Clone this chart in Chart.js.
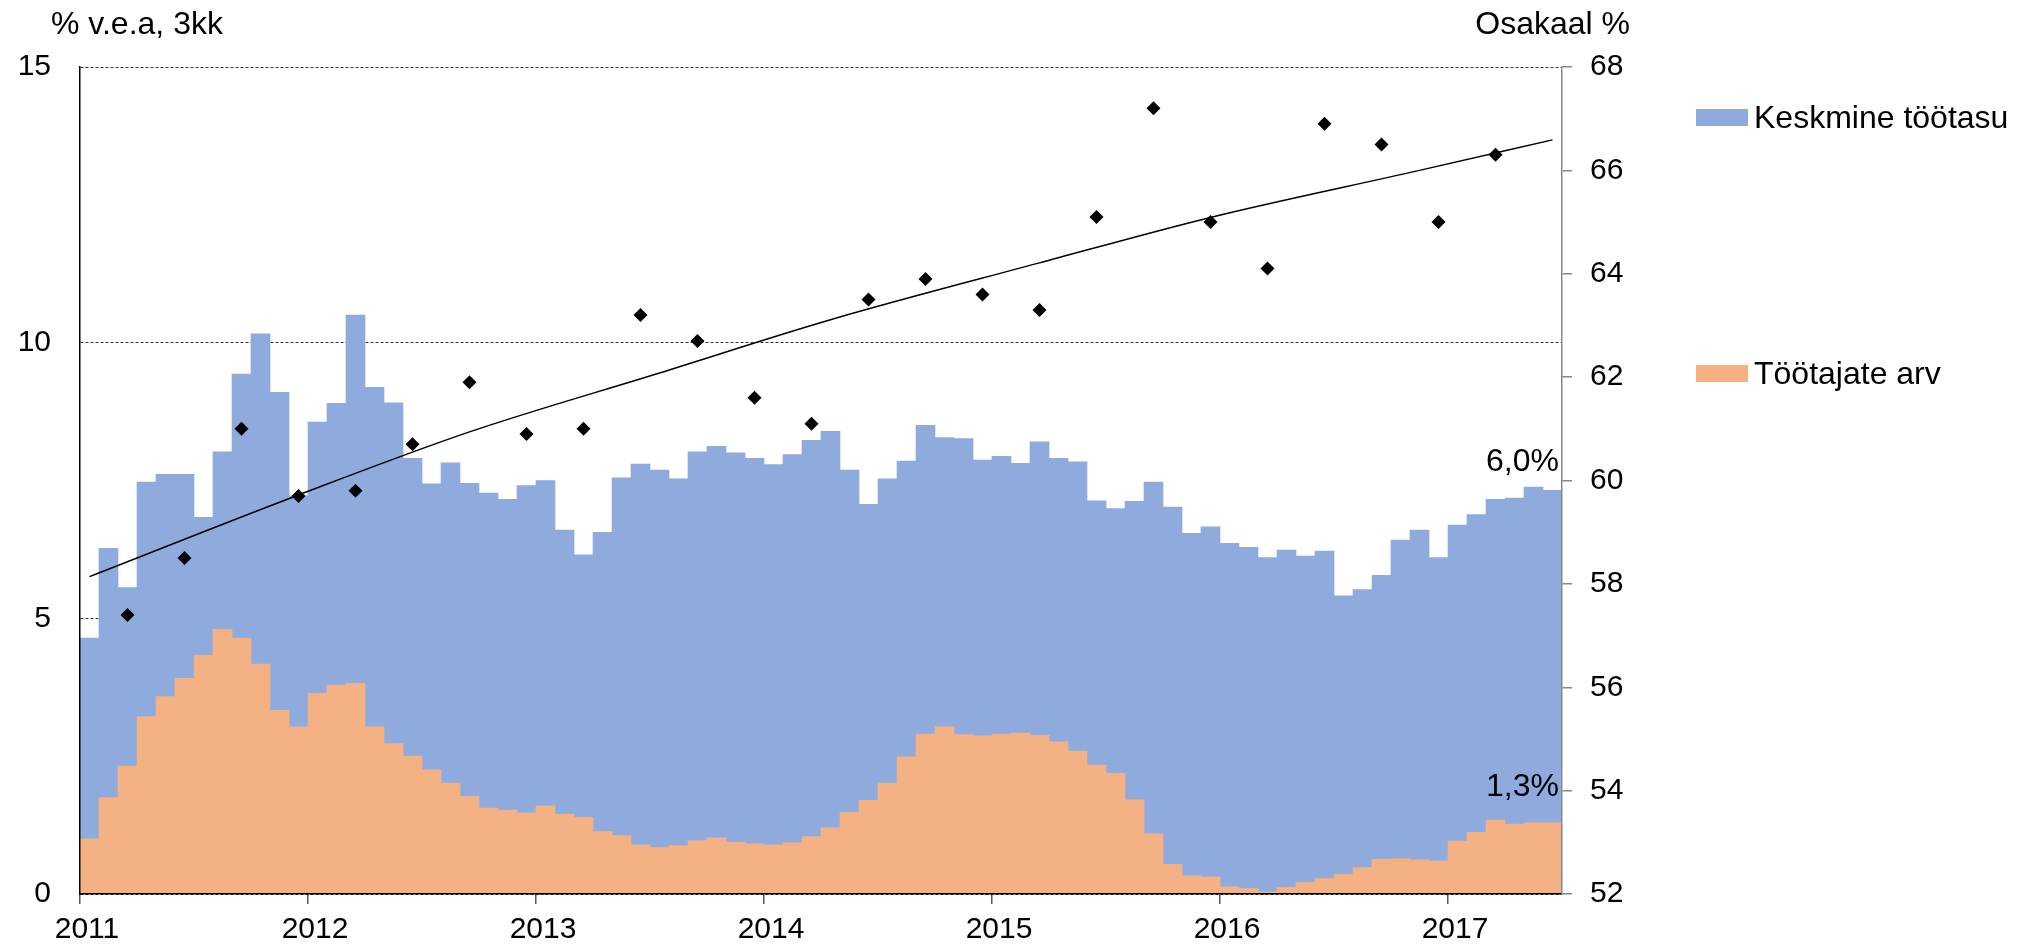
<!DOCTYPE html>
<html>
<head>
<meta charset="utf-8">
<script src="https://cdn.jsdelivr.net/npm/chart.js@4/dist/chart.umd.min.js"></script>
<style>
  html, body { margin: 0; padding: 0; background: #fff; }
  #wrap { position: relative; width: 2031px; height: 948px; font-family: 'Liberation Sans', Arial, sans-serif; color: #000; }
  #wrap canvas { position: absolute; left: 0; top: 0; }
  .txt { position: absolute; font-size: 32px; line-height: 32px; white-space: nowrap; }
  .box { position: absolute; width: 52px; height: 17px; }
</style>
</head>
<body>
<div id="wrap">
  <canvas id="chart" width="2031" height="948"></canvas>
  <div class="txt" style="left:51px; top:7px;">% v.e.a, 3kk</div>
  <div class="txt" style="right:401px; top:7px;">Osakaal %</div>
  <div class="box" style="left:1696px; top:109px; background:#8FAADC;"></div>
  <div class="txt" style="left:1754px; top:101px;">Keskmine töötasu</div>
  <div class="box" style="left:1696px; top:365px; background:#F4B183;"></div>
  <div class="txt" style="left:1754px; top:357px;">Töötajate arv</div>
  <div class="txt" style="right:472px; top:444px;">6,0%</div>
  <div class="txt" style="right:472px; top:769px;">1,3%</div>
</div>
<script>
// months (one bar each)
const months = [
  '2011-01','2011-02','2011-03','2011-04','2011-05','2011-06','2011-07','2011-08','2011-09','2011-10','2011-11','2011-12',
  '2012-01','2012-02','2012-03','2012-04','2012-05','2012-06','2012-07','2012-08','2012-09','2012-10','2012-11','2012-12',
  '2013-01','2013-02','2013-03','2013-04','2013-05','2013-06','2013-07','2013-08','2013-09','2013-10','2013-11','2013-12',
  '2014-01','2014-02','2014-03','2014-04','2014-05','2014-06','2014-07','2014-08','2014-09','2014-10','2014-11','2014-12',
  '2015-01','2015-02','2015-03','2015-04','2015-05','2015-06','2015-07','2015-08','2015-09','2015-10','2015-11','2015-12',
  '2016-01','2016-02','2016-03','2016-04','2016-05','2016-06','2016-07','2016-08','2016-09','2016-10','2016-11','2016-12',
  '2017-01','2017-02','2017-03','2017-04','2017-05','2017-06'
];

// Keskmine töötasu, % v.e.a
const keskmineTootasu = [
  4.64, 6.27, 5.56, 7.47, 7.61, 7.61, 6.83, 8.02, 9.43, 10.16, 9.10, 7.22,
  8.56, 8.90, 10.50, 9.19, 8.91, 7.90, 7.44, 7.82, 7.45, 7.27, 7.16, 7.41,
  7.50, 6.60, 6.15, 6.56, 7.55, 7.80, 7.69, 7.53, 8.02, 8.12, 8.00, 7.90,
  7.79, 7.97, 8.23, 8.39, 7.69, 7.07, 7.53, 7.85, 8.50, 8.28, 8.26, 7.87,
  7.94, 7.81, 8.20, 7.90, 7.84, 7.13, 6.99, 7.12, 7.47, 7.02, 6.54, 6.66,
  6.36, 6.29, 6.10, 6.24, 6.13, 6.22, 5.41, 5.52, 5.78, 6.42, 6.60, 6.10,
  6.69, 6.88, 7.16, 7.18, 7.38, 7.32
];

// Töötajate arv, % v.e.a
const tootajateArv = [
  1.00, 1.75, 2.32, 3.22, 3.58, 3.91, 4.33, 4.80, 4.64, 4.17, 3.33, 3.03,
  3.64, 3.79, 3.82, 3.03, 2.73, 2.50, 2.25, 2.01, 1.77, 1.56, 1.52, 1.47,
  1.60, 1.45, 1.39, 1.13, 1.06, 0.89, 0.84, 0.88, 0.97, 1.02, 0.94, 0.91,
  0.89, 0.93, 1.04, 1.20, 1.48, 1.70, 2.01, 2.49, 2.90, 3.03, 2.89, 2.87,
  2.90, 2.92, 2.88, 2.76, 2.59, 2.34, 2.19, 1.71, 1.09, 0.54, 0.33, 0.31,
  0.13, 0.10, 0.04, 0.12, 0.21, 0.28, 0.36, 0.48, 0.63, 0.64, 0.62, 0.60,
  0.96, 1.12, 1.34, 1.27, 1.29, 1.29
];

// Osakaal % (right axis), quarterly
const osakaalMonths = [
  '2011-03','2011-06','2011-09','2011-12','2012-03','2012-06','2012-09','2012-12',
  '2013-03','2013-06','2013-09','2013-12','2014-03','2014-06','2014-09','2014-12',
  '2015-03','2015-06','2015-09','2015-12','2016-03','2016-06','2016-09','2016-12','2017-03'
];
const osakaal = [
  57.4, 58.5, 61.0, 59.7, 59.8, 60.7, 61.9, 60.9,
  61.0, 63.2, 62.7, 61.6, 61.1, 63.5, 63.9, 63.6,
  63.3, 65.1, 67.2, 65.0, 64.1, 66.9, 66.5, 65.0, 66.3
];

// trend line of Osakaal, read at a few months
const trendMonths = ['2011-01','2011-12','2012-09','2013-07','2014-04','2015-03','2015-12','2016-11','2017-06'];
const trend = [58.14, 59.72, 60.94, 62.08, 63.11, 64.21, 65.09, 66.00, 66.59];

// year tick labels, one per January
const yearLabels = ['2011', '2012', '2013', '2014', '2015', '2016', '2017'];

const BLUE = '#8FAADC';
const ORANGE = '#F4B183';
const FONT = { family: "'Liberation Sans', Arial, sans-serif", size: 30 };

const isJan = (i) => i % 12 === 0 && i < months.length;

const ctx = document.getElementById('chart').getContext('2d');
new Chart(ctx, {
  data: {
    labels: months,
    datasets: [
      {
        type: 'line',
        label: 'Osakaal',
        data: osakaalMonths.map((m, i) => ({ x: m, y: osakaal[i] })),
        yAxisID: 'y2',
        showLine: false,
        pointStyle: 'rectRot',
        pointRadius: 7,
        pointBackgroundColor: '#000',
        pointBorderWidth: 0,
        order: 0
      },
      {
        type: 'line',
        label: 'Trend',
        data: trendMonths.map((m, i) => ({ x: m, y: trend[i] })),
        yAxisID: 'y2',
        borderColor: '#000',
        borderWidth: 1.5,
        pointRadius: 0,
        cubicInterpolationMode: 'monotone',
        fill: false,
        order: 1
      },
      {
        type: 'bar',
        label: 'Töötajate arv',
        data: tootajateArv,
        backgroundColor: ORANGE,
        borderWidth: 0,
        grouped: false,
        barPercentage: 1,
        categoryPercentage: 1,
        order: 2
      },
      {
        type: 'bar',
        label: 'Keskmine töötasu',
        data: keskmineTootasu,
        backgroundColor: BLUE,
        borderWidth: 0,
        grouped: false,
        barPercentage: 1,
        categoryPercentage: 1,
        order: 3
      }
    ]
  },
  options: {
    responsive: false,
    animation: false,
    events: [],
    layout: { padding: { top: 67, left: 0, right: 0, bottom: 0 } },
    plugins: { legend: { display: false }, tooltip: { enabled: false } },
    scales: {
      x: {
        type: 'category',
        offset: true,
        afterFit: (scale) => { scale.height = 54; },
        grid: {
          offset: true, drawOnChartArea: false, drawTicks: true, tickLength: 10, lineWidth: 1.5,
          tickColor: (c) => isJan(c.index) ? '#555' : 'rgba(0,0,0,0)'
        },
        border: { color: '#000', width: 1.5, z: 1 },
        ticks: {
          font: FONT, color: '#000', padding: 8, maxRotation: 0, autoSkip: false,
          labelOffset: -2.5,
          callback: (v, i) => isJan(i) ? yearLabels[i / 12] : ''
        }
      },
      y: {
        position: 'left',
        min: 0,
        max: 15,
        afterFit: (scale) => { scale.width = 80; },
        grid: { color: '#333', lineWidth: 1, drawTicks: false },
        border: { color: '#000', width: 1.5, dash: [3, 2], z: 1 },
        ticks: { stepSize: 5, font: FONT, color: '#000', padding: 29 }
      },
      y2: {
        position: 'right',
        min: 52,
        max: 68,
        afterFit: (scale) => { scale.width = 469; },
        grid: { drawOnChartArea: false, drawTicks: true, tickLength: 10, color: '#888', lineWidth: 1.5 },
        border: { color: '#888', width: 1.5, z: 1 },
        ticks: { stepSize: 2, font: FONT, color: '#000', padding: 18 }
      }
    }
  }
});
</script>
</body>
</html>
